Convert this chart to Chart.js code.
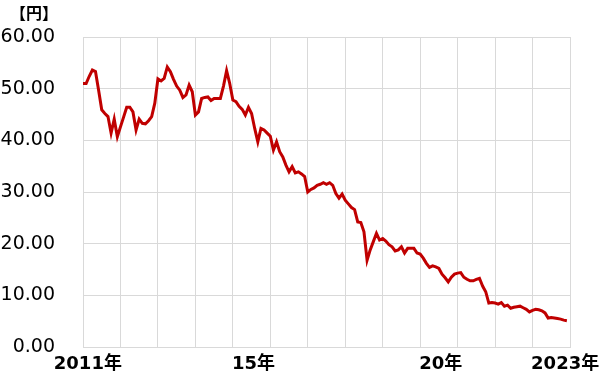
<!DOCTYPE html>
<html>
<head>
<meta charset="utf-8">
<script src="https://cdn.jsdelivr.net/npm/chart.js@4"></script>
<style>
  body { margin: 0; background: #fff; }
</style>
</head>
<body>
<canvas id="chart" width="600" height="372"></canvas>
<script>
// monthly values, yen
const y2011 = [51.0, 51.0, 52.4, 53.6, 53.3, 49.7, 45.9, 45.2, 44.6, 41.4, 44.1, 40.7]
const y2012 = [42.6, 44.5, 46.4, 46.4, 45.5, 42.0, 44.1, 43.3, 43.2, 43.8, 44.6, 47.2]
const y2013 = [51.9, 51.5, 52.0, 54.2, 53.3, 51.8, 50.5, 49.7, 48.3, 48.8, 50.7, 49.4]
const y2014 = [44.9, 45.5, 48.1, 48.3, 48.4, 47.7, 48.1, 48.1, 48.1, 50.5, 53.5, 51.0]
const y2015 = [47.8, 47.5, 46.6, 46.0, 44.9, 46.4, 45.2, 42.3, 39.7, 42.3, 42.0, 41.4]
const y2016 = [40.8, 38.1, 39.7, 37.8, 36.8, 35.2, 33.9, 34.9, 33.7, 33.9, 33.5, 33.0]
const y2017 = [30.0, 30.5, 30.8, 31.3, 31.5, 31.8, 31.5, 31.8, 31.3, 29.7, 28.8, 29.6]
const y2018 = [28.4, 27.7, 27.0, 26.6, 24.2, 24.1, 22.3, 16.8, 18.8, 20.4, 22.0, 20.7]
const y2019 = [21.0, 20.5, 19.8, 19.4, 18.6, 18.8, 19.4, 18.2, 19.1, 19.1, 19.1, 18.2]
const y2020 = [18.0, 17.2, 16.2, 15.4, 15.7, 15.5, 15.2, 14.1, 13.4, 12.6, 13.5, 14.1]
const y2021 = [14.3, 14.4, 13.5, 13.1, 12.8, 12.8, 13.1, 13.3, 11.8, 10.7, 8.5, 8.6]
const y2022 = [8.5, 8.3, 8.6, 7.9, 8.1, 7.5, 7.7, 7.8, 7.9, 7.6, 7.3, 6.8]
const y2023 = [7.1, 7.3, 7.2, 7.0, 6.6, 5.6, 5.7, 5.6, 5.5, 5.4, 5.2, 5.1]

const years = [2011, 2012, 2013, 2014, 2015, 2016, 2017, 2018, 2019, 2020, 2021, 2022, 2023]
const yearly = [y2011, y2012, y2013, y2014, y2015, y2016, y2017, y2018, y2019, y2020, y2021, y2022, y2023]

const xLabels = ['2011年', '15年', '20年', '2023年']
const xLabelAt = [2011.13, 2015.55, 2020.55, 2023.87]
const unitLabel = '【円】'

const points = []
yearly.forEach((vals, k) => {
  vals.forEach((v, m) => points.push({ x: years[k] + m / 12, y: v }))
})

const gridColor = '#d9d9d9'
const fontFamily = '"DejaVu Sans", "Noto Sans CJK JP", sans-serif'

// x labels and unit are drawn by hand so they can sit where the original puts them
const labelsPlugin = {
  id: 'labels',
  afterDraw(chart) {
    const ctx = chart.ctx
    const xs = chart.scales.x
    ctx.save()
    ctx.fillStyle = '#000'
    ctx.textBaseline = 'middle'
    ctx.textAlign = 'center'
    ctx.font = 'bold 18px ' + fontFamily
    xLabels.forEach((t, i) => {
      ctx.fillText(t, xs.getPixelForValue(xLabelAt[i]), chart.chartArea.bottom + 17)
    })
    ctx.textAlign = 'left'
    ctx.font = 'bold 16px ' + fontFamily
    ctx.fillText(unitLabel, 10, 15)
    ctx.restore()
  }
}

new Chart(document.getElementById('chart'), {
  type: 'line',
  data: {
    datasets: [{
      data: points,
      borderColor: '#c00000',
      borderWidth: 3,
      pointRadius: 0,
      tension: 0,
      fill: false
    }]
  },
  options: {
    responsive: false,
    animation: false,
    layout: { padding: { top: 37, right: 30, left: 0, bottom: 0 } },
    plugins: {
      legend: { display: false },
      tooltip: { enabled: false }
    },
    scales: {
      x: {
        type: 'linear',
        min: 2011,
        max: 2024,
        ticks: { display: false, stepSize: 1 },
        grid: { color: gridColor, drawTicks: false },
        border: { color: gridColor },
        afterFit(scale) { scale.height = 25 }
      },
      y: {
        min: 0,
        max: 60,
        ticks: {
          stepSize: 10,
          padding: 28,
          color: '#000',
          font: { family: fontFamily, size: 19 },
          callback: v => v.toFixed(2)
        },
        grid: { color: gridColor, drawTicks: false },
        border: { color: gridColor },
        afterFit(scale) {
          scale.width = 83
          // tick padding would otherwise push the plot in from top and bottom
          scale.paddingTop = 0
          scale.paddingBottom = 0
        }
      }
    }
  },
  plugins: [labelsPlugin]
})
</script>
</body>
</html>
